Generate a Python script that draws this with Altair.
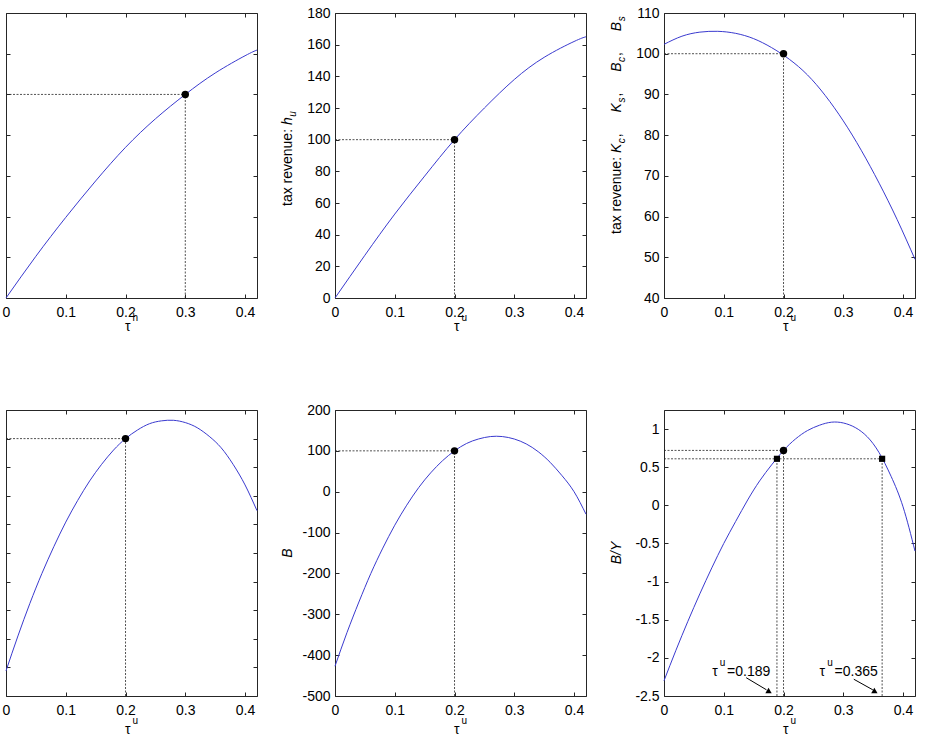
import altair as alt
import pandas as pd

FONT = "Liberation Sans"
INK = "#262626"
CURVE = "#3a3acf"
DASH = [2, 1.5]

W = 251                      # plot-area width of every panel
H_TOP, H_BOT = 285, 286      # plot-area heights of the two rows
TAU_DOMAIN = [0, 0.42]
TAU_TICKS = [0, 0.1, 0.2, 0.3, 0.4]

# ---- (a) revenue from the hours tax -------------------------------------
TAU_A = [0.0, 0.05, 0.10, 0.15, 0.20, 0.25, 0.30, 0.35, 0.40, 0.42]
REV_A = [0.0, 20.5, 39.6, 57.5, 74.0, 88.0, 100.0, 110.5, 119.0, 121.8]
Y_A, TICKS_A = [0, 140], [0, 20, 40, 60, 80, 100, 120, 140]
BASE_A = (0.3, 100)

# ---- (b) tax revenue h_u -------------------------------------------------
TAU_B = [0.0, 0.05, 0.10, 0.15, 0.20, 0.25, 0.30, 0.35, 0.40, 0.42]
REV_B = [0.0, 27, 53, 77, 100, 120, 138, 152, 162, 165]
Y_B, TICKS_B = [0, 180], [0, 20, 40, 60, 80, 100, 120, 140, 160, 180]
BASE_B = (0.2, 100)

# ---- (c) tax revenue K_c, K_s, B_c, B_s ---------------------------------
TAU_C = [0.0, 0.03, 0.06, 0.09, 0.12, 0.15, 0.18, 0.21, 0.24, 0.27, 0.30,
         0.33, 0.36, 0.39, 0.42]
REV_C = [102.3, 104.3, 105.3, 105.5, 105.0, 103.7, 101.5, 98.6, 94.8, 89.7,
         83.5, 76.3, 68.2, 59.3, 49.5]
Y_C, TICKS_C = [40, 110], [40, 50, 60, 70, 80, 90, 100, 110]
BASE_C = (0.2, 100)

# ---- shared grid for the bottom row --------------------------------------
TAU_GRID = [0.00, 0.02, 0.04, 0.06, 0.08, 0.10, 0.12, 0.14, 0.16, 0.18, 0.20,
            0.22, 0.24, 0.26, 0.28, 0.30, 0.32, 0.34, 0.36, 0.38, 0.40, 0.42]

# ---- (d) primary balance --------------------------------------------------
VAL_D = [-4.06, -3.45, -2.88, -2.36, -1.89, -1.46, -1.08, -0.74, -0.45, -0.20,
         0.00, 0.15, 0.26, 0.31, 0.32, 0.28, 0.19, 0.04, -0.16, -0.45, -0.81,
         -1.26]
Y_D = [-4.5, 0.5]
TICKS_D = [-4.5, -4, -3.5, -3, -2.5, -2, -1.5, -1, -0.5, 0, 0.5]
BASE_D = (0.2, 0.0)

# ---- (e) debt B -----------------------------------------------------------
VAL_E = [-427, -345, -270, -200, -138, -82, -33, 10, 46, 76, 100, 118, 129,
         135, 135, 129, 117, 98, 72, 39, 0, -55]
Y_E, TICKS_E = [-500, 200], [-500, -400, -300, -200, -100, 0, 100, 200]
BASE_E = (0.2, 100)

# ---- (f) debt to output B/Y ----------------------------------------------
VAL_F = [-2.30, -1.90, -1.52, -1.16, -0.82, -0.50, -0.21, 0.07, 0.32, 0.53,
         0.72, 0.87, 0.98, 1.05, 1.09, 1.08, 1.02, 0.90, 0.69, 0.38, -0.02,
         -0.60]
Y_F = [-2.5, 1.25]
TICKS_F = [-2.5, -2, -1.5, -1, -0.5, 0, 0.5, 1]
BASE_F = (0.2, 0.72)
LEVEL_F = 0.61                       # B/Y level reached at two tax rates
ROOTS_F = [0.189, 0.365]
NOTE_X = [0.0806, 0.2604]            # left edge of each note
NOTE_Y = -2.24
ARROW_X = [0.1375, 0.3176]
ARROW_Y = [-2.26, -2.28]
ARROW_X2 = [0.1715, 0.3494]
ARROW_Y2 = [-2.419, -2.419]
HEAD_X = [0.1749, 0.352]
HEAD_Y = -2.428

# Arial/Liberation advance widths (1/1000 em) for laying out rich text
CW = {" ": 278, "a": 556, "b": 556, "c": 500, "e": 556, "h": 556, "n": 556,
      "r": 333, "s": 500, "t": 278, "u": 556, "v": 500, "x": 500, ":": 278,
      ",": 278, "K": 667, "B": 667, "Y": 667, "/": 278, "=": 584, ".": 278,
      "\u03c4": 440}
ONE = pd.DataFrame({"k": [0]})
PLAIN_NUMBER = "'' + datum.value"    # hyphen-minus, no exponent notation


def text_w(s, size):
    return sum(CW.get(c, 556) for c in s) * size / 1000.0


def seg_width(segments):
    return sum(g + text_w(t, s) for t, s, it, sh, g in segments)


def rich(segments, x, y, angle=0, data=ONE, last_field=None):
    """One text mark per run; runs are chained with dx along the text."""
    out, off = [], 0.0
    for i, (text, size, italic, shift, gap) in enumerate(segments):
        off += gap
        if last_field and i == len(segments) - 1:
            txt = alt.Text(f"{last_field}:N")
        else:
            txt = alt.value(text)
        out.append(
            alt.Chart(data).mark_text(
                align="left", baseline="alphabetic", angle=angle, dx=off,
                dy=shift, font=FONT, fontSize=size,
                fontStyle="italic" if italic else "normal", color="black",
            ).encode(x=x, y=y, text=txt)
        )
        off += text_w(text, size)
    return out


def tau_title(sup, h, below):
    segs = [("\u03c4", 14, False, 0, 0), (sup, 10, False, -10, 1.3)]
    total = seg_width(segs)
    return rich(segs, alt.value(W / 2 - total / 2), alt.value(h + below))


def y_title(segs, start):
    return rich(segs, alt.value(-43), alt.value(start), angle=270)


def inner_axis(orient, offset, values):
    return alt.Axis(orient=orient, offset=offset, values=values, labels=False,
                    domain=False, grid=False, title=None, ticks=True,
                    tickSize=4)


def panel(tau, vals, y_dom, y_ticks, h, base, y_labels, titles, extra=()):
    xs = alt.Scale(domain=TAU_DOMAIN, nice=False, zero=False)
    ys = alt.Scale(domain=y_dom, nice=False, zero=False)

    def X(axis, f="x"):
        return alt.X(f"{f}:Q", scale=xs, axis=axis)

    def Y(axis, f="y"):
        return alt.Y(f"{f}:Q", scale=ys, axis=axis)

    main_x = alt.Axis(orient="bottom", values=TAU_TICKS, labelExpr=PLAIN_NUMBER,
                      ticks=False, domain=False, grid=False, title=None,
                      labelFlush=False, labelOverlap=False, labelPadding=7)
    main_y = None
    if y_labels:
        main_y = alt.Axis(orient="left", values=y_ticks, labelExpr=PLAIN_NUMBER,
                          ticks=False, domain=False, grid=False, title=None,
                          labelOverlap=False, labelPadding=5)

    curve = alt.Chart(pd.DataFrame({"x": tau, "y": vals})).mark_line(
        color=CURVE, strokeWidth=1, interpolate="natural"
    ).encode(x=X(main_x), y=Y(main_y))

    bx, by = base
    guides = pd.DataFrame({"x": [0, bx], "x2": [bx, bx],
                           "y": [by, y_dom[0]], "y2": [by, by]})
    rules = alt.Chart(guides).mark_rule(
        color=INK, strokeWidth=0.8, strokeDash=DASH
    ).encode(x=X(inner_axis("top", -h, TAU_TICKS)), x2="x2",
             y=Y(inner_axis("right", -W, y_ticks)), y2="y2")

    dot = alt.Chart(pd.DataFrame({"x": [bx], "y": [by]})).mark_point(
        shape="circle", filled=True, size=55, color="black", opacity=1
    ).encode(x=X(inner_axis("bottom", -h, TAU_TICKS)),
             y=Y(inner_axis("left", -W, y_ticks)))

    layers = [curve, rules] + [e(X, Y) for e in extra] + [dot] + list(titles)
    return alt.layer(*layers).resolve_axis(
        x="independent", y="independent"
    ).properties(width=W, height=h)


def f_extras():
    """Second-level guides and notes of the B/Y panel."""
    def guides(X, Y):
        df = pd.DataFrame({
            "x": [0] + ROOTS_F, "x2": [ROOTS_F[1]] + ROOTS_F,
            "y": [LEVEL_F, Y_F[0], Y_F[0]], "y2": [LEVEL_F, LEVEL_F, LEVEL_F]})
        return alt.Chart(df).mark_rule(
            color=INK, strokeWidth=0.8, strokeDash=DASH
        ).encode(x=X(None), x2="x2", y=Y(None), y2="y2")

    def squares(X, Y):
        df = pd.DataFrame({"x": ROOTS_F, "y": [LEVEL_F] * 2})
        return alt.Chart(df).mark_point(
            shape="square", filled=True, size=38, color="black", opacity=1
        ).encode(x=X(None), y=Y(None))

    def arrows(X, Y):
        df = pd.DataFrame({"x": ARROW_X, "y": ARROW_Y,
                           "x2": ARROW_X2, "y2": ARROW_Y2})
        return alt.Chart(df).mark_rule(color="black", strokeWidth=1).encode(
            x=X(None), x2="x2", y=Y(None), y2="y2")

    def heads(X, Y):
        df = pd.DataFrame({"x": HEAD_X, "y": [HEAD_Y] * 2})
        return alt.Chart(df).mark_point(
            shape="triangle-up", filled=True, size=40, color="black", opacity=1
        ).encode(x=X(None), y=Y(None))

    def notes(X, Y):
        df = pd.DataFrame({"x": NOTE_X, "y": [NOTE_Y] * 2,
                           "label": [f"={v:.3f}" for v in ROOTS_F]})
        segs = [("\u03c4", 14, False, 0, 0), ("u", 10, False, -10, 1.5),
                ("=0.000", 14, False, 0, 1.7)]
        return alt.layer(*rich(segs, X(None), Y(None), data=df,
                               last_field="label"))

    return [guides, squares, arrows, heads, notes]


SUB = 3.5
TITLE_B = [("tax revenue: ", 14, False, 0, 0), ("h", 14, True, 0, 0),
           ("u", 10, True, SUB, 0.5)]
TITLE_C = [("tax revenue: ", 14, False, 0, 0),
           ("K", 14, True, 0, 0), ("c", 10, True, SUB, 0.5), (", ", 14, False, 0, 1),
           ("K", 14, True, 0, 17), ("s", 10, True, SUB, 0.5), (", ", 14, False, 0, 1),
           ("B", 14, True, 0, 17), ("c", 10, True, SUB, 0.5), (", ", 14, False, 0, 1),
           ("B", 14, True, 0, 17), ("s", 10, True, SUB, 0.5)]
TITLE_E = [("B", 14, True, 0, 0)]
TITLE_F = [("B/Y", 14, True, 0, 0)]

TOP_BELOW, BOT_BELOW = 33, 38

p_a = panel(TAU_A, REV_A, Y_A, TICKS_A, H_TOP, BASE_A, False,
            tau_title("h", H_TOP, TOP_BELOW))
p_b = panel(TAU_B, REV_B, Y_B, TICKS_B, H_TOP, BASE_B, True,
            tau_title("u", H_TOP, TOP_BELOW) + y_title(TITLE_B, 193))
p_c = panel(TAU_C, REV_C, Y_C, TICKS_C, H_TOP, BASE_C, True,
            tau_title("u", H_TOP, TOP_BELOW) + y_title(TITLE_C, 221))
p_d = panel(TAU_GRID, VAL_D, Y_D, TICKS_D, H_BOT, BASE_D, False,
            tau_title("u", H_BOT, BOT_BELOW))
p_e = panel(TAU_GRID, VAL_E, Y_E, TICKS_E, H_BOT, BASE_E, True,
            tau_title("u", H_BOT, BOT_BELOW)
            + y_title(TITLE_E, H_BOT / 2 + seg_width(TITLE_E) / 2))
p_f = panel(TAU_GRID, VAL_F, Y_F, TICKS_F, H_BOT, BASE_F, True,
            tau_title("u", H_BOT, BOT_BELOW)
            + y_title(TITLE_F, H_BOT / 2 + seg_width(TITLE_F) / 2),
            extra=f_extras())

chart = alt.concat(
    p_a, p_b, p_c, p_d, p_e, p_f,
    columns=3, spacing={"row": 112, "column": 78}, bounds="flush",
).properties(
    padding={"left": 1, "top": 5, "right": 5, "bottom": 0},
    background="white",
).configure_view(
    stroke=INK, strokeWidth=1,
).configure_axis(
    labelFont=FONT, labelFontSize=14, labelColor="black",
    tickColor=INK, tickWidth=1,
)

chart.save("out.html", embed_options={"renderer": "svg", "actions": False})
